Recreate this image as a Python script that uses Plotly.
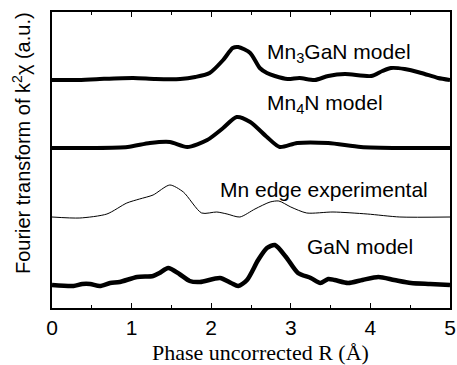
import plotly.graph_objects as go

# R values (Å) and curve heights (a.u., measured upward from the bottom of the frame)
r_mn3gan = [0, 0.3, 0.6, 1.02, 1.3, 1.61, 1.8, 1.98, 2.15, 2.27, 2.34, 2.49, 2.61, 2.70, 2.80, 2.96, 3.11, 3.3, 3.47, 3.68, 4.01, 4.15, 4.26, 4.43, 4.64, 4.85, 5.0]
y_mn3gan = [228, 228, 229, 230, 229, 229, 231, 235, 248, 260, 261, 255, 240, 235, 232, 229, 230, 228, 232, 234, 232, 237, 240, 239, 235, 230, 228]

r_mn4n = [0, 0.5, 0.95, 1.23, 1.48, 1.70, 1.95, 2.15, 2.32, 2.49, 2.70, 2.86, 3.08, 3.47, 3.88, 4.4, 5.0]
y_mn4n = [160, 160, 161, 165, 166, 161, 168, 180, 191, 186, 171, 161, 165, 165, 161, 160, 160]

r_exp = [0, 0.35, 0.69, 0.94, 1.1, 1.27, 1.48, 1.65, 1.88, 2.07, 2.2, 2.36, 2.55, 2.74, 2.85, 3.0, 3.2, 3.53, 3.96, 4.37, 5.0]
y_exp = [91, 90, 94, 105, 109, 113, 123, 116, 95, 96, 94, 91, 99, 106, 107, 101, 95, 96, 94, 91, 91]

r_gan = [0, 0.27, 0.38, 0.48, 0.6, 0.73, 0.85, 1.07, 1.27, 1.35, 1.46, 1.6, 1.73, 1.86, 2.11, 2.25, 2.34, 2.45, 2.59, 2.7, 2.8, 2.94, 3.09, 3.25, 3.37, 3.47, 3.55, 3.72, 3.9, 4.10, 4.3, 4.51, 4.75, 5.0]
y_gan = [23, 22, 24, 24, 22, 25, 26, 31, 32, 35, 40, 34, 27, 26, 30, 25, 22, 28, 48, 60, 63, 51, 35, 30, 25, 29, 28, 25, 28, 31, 28, 25, 24, 23]

labels = ["Mn<sub>3</sub>GaN model", "Mn<sub>4</sub>N model", "Mn edge experimental", "GaN model"]
label_r = [2.68, 2.68, 2.09, 3.18]
label_y = [255, 204, 119, 62]

fig = go.Figure()
for rr, yy, w in [(r_mn3gan, y_mn3gan, 4), (r_mn4n, y_mn4n, 4), (r_exp, y_exp, 1), (r_gan, y_gan, 4.5)]:
    fig.add_trace(go.Scatter(x=rr, y=yy, mode="lines",
                             line=dict(color="black", width=w, shape="spline", smoothing=0.7),
                             showlegend=False, hoverinfo="skip"))

for t, xr, yv in zip(labels, label_r, label_y):
    fig.add_annotation(x=xr, y=yv, xref="x", yref="y", text=t, showarrow=False,
                       xanchor="left", yanchor="middle",
                       font=dict(family="Liberation Sans, Arial", size=21, color="black"))

fig.add_annotation(x=-0.078, y=0.557, xref="paper", yref="paper",
                   text="Fourier transform of k<sup>2</sup>χ (a.u.)", textangle=-90,
                   showarrow=False, xanchor="center", yanchor="middle",
                   font=dict(family="Liberation Sans, Arial", size=20, color="black"))
fig.add_annotation(x=0.525, y=-0.152, xref="paper", yref="paper",
                   text="Phase uncorrected R (Å)", showarrow=False,
                   xanchor="center", yanchor="middle",
                   font=dict(family="Liberation Serif, Times New Roman", size=22, color="black"))

fig.update_xaxes(range=[0, 5], tickvals=[0, 1, 2, 3, 4, 5], ticks="inside", ticklen=5,
                 tickwidth=1.2, tickcolor="black", showline=True, linecolor="black",
                 linewidth=1.5, mirror="allticks", showgrid=False, zeroline=False,
                 automargin=False,
                 tickfont=dict(family="Liberation Sans, Arial", size=21, color="black"),
                 minor=dict(tickvals=[0.5, 1.5, 2.5, 3.5, 4.5], ticks="inside", ticklen=3,
                            tickcolor="black", tickwidth=1.2, showgrid=False))
fig.update_yaxes(range=[0, 296], showticklabels=False, ticks="", showline=True,
                 linecolor="black", linewidth=1.5, mirror=True, showgrid=False, zeroline=False,
                 automargin=False)

fig.update_layout(width=457, height=365, margin=dict(l=52, r=7, t=12, b=57),
                  plot_bgcolor="white", paper_bgcolor="white")
fig.write_html("out.html")
